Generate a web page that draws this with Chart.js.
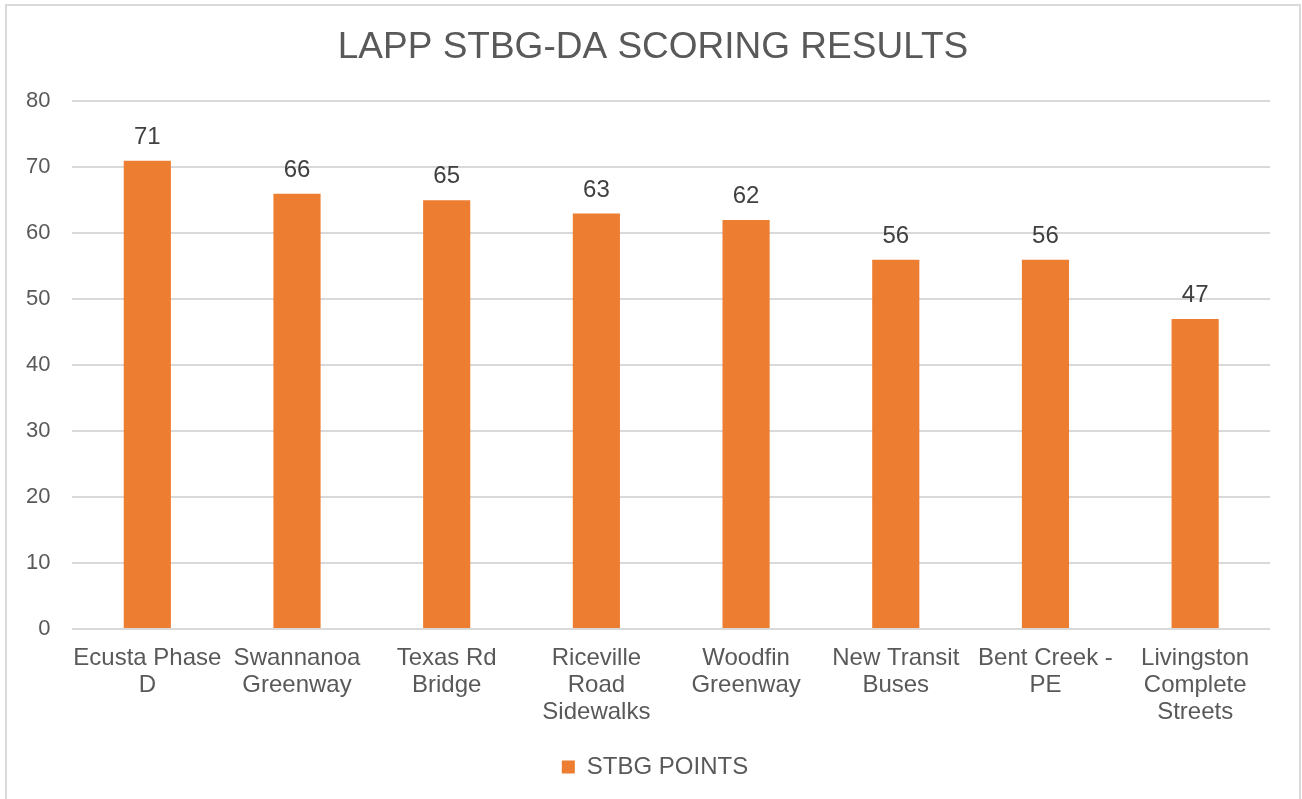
<!DOCTYPE html>
<html>
<head>
<meta charset="utf-8">
<script src="https://cdn.jsdelivr.net/npm/chart.js@4/dist/chart.umd.min.js"></script>
<style>
  body { margin: 0; background: #fff; }
  #wrap { position: relative; width: 1302px; height: 799px; }
  #frame { position: absolute; left: 5px; top: 4px; width: 1292px; height: 810px; border: 2px solid #d9d9d9; pointer-events: none; }
</style>
</head>
<body>
<div id="wrap">
  <canvas id="chart--bar" width="1302" height="799"></canvas>
  <div id="frame"></div>
</div>
<script>
const projects = [
    ['Ecusta Phase', 'D'],
    ['Swannanoa', 'Greenway'],
    ['Texas Rd', 'Bridge'],
    ['Riceville', 'Road', 'Sidewalks'],
    ['Woodfin', 'Greenway'],
    ['New Transit', 'Buses'],
    ['Bent Creek -', 'PE'],
    ['Livingston', 'Complete', 'Streets']
];
const stbg_points = [71, 66, 65, 63, 62, 56, 56, 47];

const fontName = '"Liberation Sans", Arial, sans-serif';

// numbers above the bars
const barLabels = {
    id: 'barLabels',
    afterDatasetsDraw(chart) {
        const ctx = chart.ctx;
        ctx.save();
        ctx.font = '24px ' + fontName;
        ctx.fillStyle = '#404040';
        ctx.textAlign = 'center';
        ctx.textBaseline = 'alphabetic';
        chart.getDatasetMeta(0).data.forEach(function (bar, i) {
            ctx.fillText(stbg_points[i], bar.x, bar.y - 17);
        });
        ctx.restore();
    }
};

// center title and legend on the whole canvas, not the padded area
const centerBlocks = {
    id: 'centerBlocks',
    afterLayout(chart) {
        chart.titleBlock.left = 0;
        chart.titleBlock.right = 1306;
        chart.legend.left = 0;
        chart.legend.right = 1310;
    }
};

const config_bar = {
    type: 'bar',
    data: {
        labels: projects,
        datasets: [{
            label: 'STBG POINTS',
            data: stbg_points,
            backgroundColor: '#ed7d31',
            borderWidth: 0,
            categoryPercentage: 1,
            barPercentage: 0.315
        }]
    },
    options: {
        responsive: false,
        animation: false,
        layout: { padding: { left: 4, right: 32, top: 18, bottom: 10 } },
        plugins: {
            title: {
                display: true,
                text: 'LAPP STBG-DA SCORING RESULTS',
                color: '#595959',
                font: { family: fontName, size: 37, weight: 'normal' },
                padding: { top: 8, bottom: 31 }
            },
            legend: {
                position: 'bottom',
                labels: {
                    color: '#595959',
                    font: { family: fontName, size: 24 },
                    boxWidth: 13,
                    boxHeight: 13,
                    padding: 13
                }
            },
            tooltip: { enabled: false }
        },
        scales: {
            y: {
                min: 0,
                max: 80,
                ticks: {
                    stepSize: 10,
                    color: '#595959',
                    font: { family: fontName, size: 22 },
                    padding: 22
                },
                grid: { color: '#d9d9d9', lineWidth: 2, drawTicks: false },
                border: { display: false }
            },
            x: {
                ticks: {
                    color: '#595959',
                    font: { family: fontName, size: 24, lineHeight: 1.125 },
                    maxRotation: 0,
                    autoSkip: false,
                    padding: 16
                },
                grid: { display: false, drawTicks: false },
                border: { display: false }
            }
        }
    },
    plugins: [barLabels, centerBlocks]
};
var chartbar = new Chart(
    document.getElementById('chart--bar'),
    config_bar
);
</script>
</body>
</html>
